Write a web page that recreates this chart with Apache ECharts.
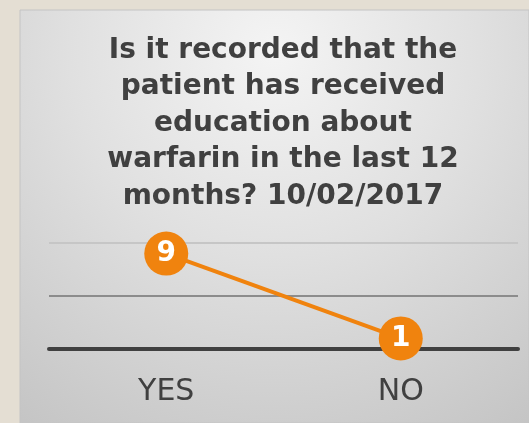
<!DOCTYPE html>
<html>
<head>
<meta charset="utf-8">
<script src="https://cdn.jsdelivr.net/npm/echarts@6/dist/echarts.min.js"></script>
<style>
  html, body { margin: 0; padding: 0; background: #e4ded3; }
  #chart { width: 529px; height: 423px; }
</style>
</head>
<body>
<div id="chart"></div>
<script>
var categories = ['YES', 'NO'];
var counts = [9, 1];
var titleText = 'Is it recorded that the\npatient has received\neducation about\nwarfarin in the last 12\nmonths? 10/02/2017';

var chart = echarts.init(document.getElementById('chart'));
chart.setOption({
    backgroundColor: '#e4ded3',
    graphic: [
        {
            type: 'rect',
            z: -10,
            shape: { x: 20, y: 10, width: 509, height: 413 },
            style: {
                fill: {
                    type: 'radial', x: 0.5, y: 0.1, r: 1.1,
                    colorStops: [
                        { offset: 0, color: '#f4f4f4' },
                        { offset: 0.45, color: '#e0e0e0' },
                        { offset: 1, color: '#c4c4c4' }
                    ]
                },
                stroke: '#c4c4c4',
                lineWidth: 1
            }
        }
    ],
    title: {
        text: titleText,
        left: 283,
        top: 32,
        padding: 0,
        textAlign: 'center',
        textStyle: {
            fontFamily: 'DejaVu Sans',
            fontWeight: 'bold',
            fontSize: 28,
            lineHeight: 36.5,
            color: '#404040'
        }
    },
    grid: { left: 49, right: 11, top: 243, bottom: 74 },
    xAxis: {
        type: 'category',
        data: categories,
        axisLine: { lineStyle: { color: '#404040', width: 4 } },
        axisTick: { show: false },
        axisLabel: {
            fontFamily: 'DejaVu Sans',
            fontSize: 30,
            color: '#404040',
            margin: 28
        }
    },
    yAxis: {
        type: 'value',
        min: 0,
        max: 10,
        interval: 5,
        axisLabel: { show: false },
        axisLine: { show: false },
        splitLine: {
            lineStyle: { color: ['#404040', '#8c8c8c', '#c6c6c6'], width: 2 }
        }
    },
    series: [
        {
            type: 'line',
            data: counts,
            symbol: 'circle',
            symbolSize: 44,
            itemStyle: { color: '#f0830e' },
            lineStyle: { color: '#f0830e', width: 4 },
            label: {
                show: true,
                position: 'inside',
                color: '#ffffff',
                fontFamily: 'DejaVu Sans',
                fontWeight: 'bold',
                fontSize: 28
            },
            z: 5
        }
    ]
});
</script>
</body>
</html>
